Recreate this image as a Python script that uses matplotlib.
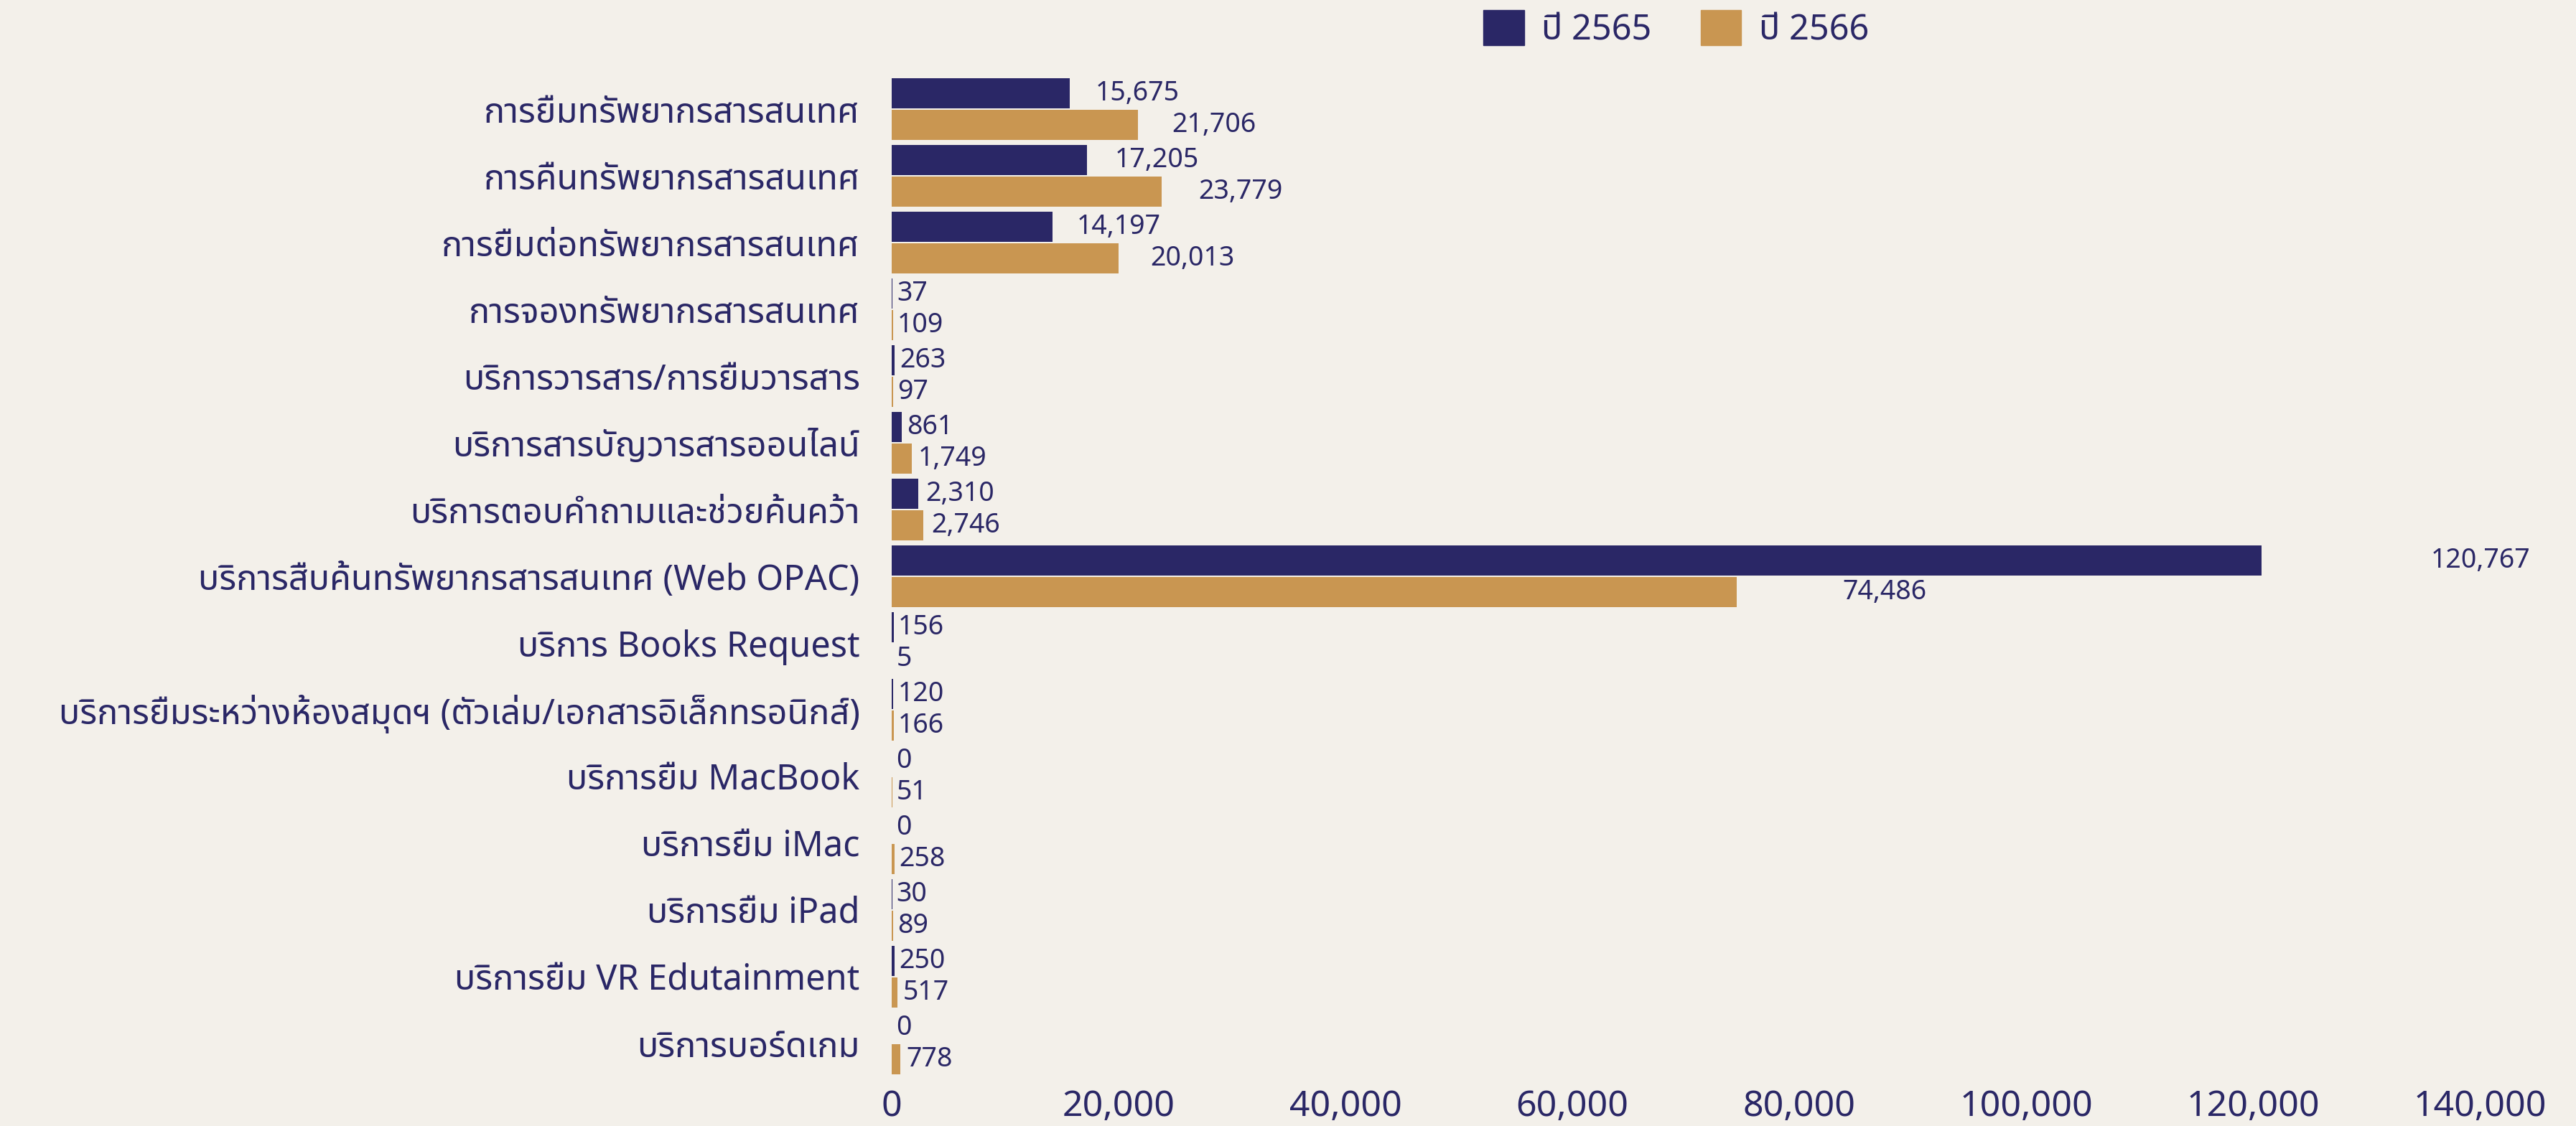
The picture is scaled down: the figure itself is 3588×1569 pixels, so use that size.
import matplotlib
matplotlib.use("Agg")
import matplotlib.pyplot as plt
from matplotlib import font_manager
from matplotlib.ft2font import FT2Font
from matplotlib.patches import Patch
import numpy as np

# data
categories = [
    "การยืมทรัพยากรสารสนเทศ",
    "การคืนทรัพยากรสารสนเทศ",
    "การยืมต่อทรัพยากรสารสนเทศ",
    "การจองทรัพยากรสารสนเทศ",
    "บริการวารสาร/การยืมวารสาร",
    "บริการสารบัญวารสารออนไลน์",
    "บริการตอบคำถามและช่วยค้นคว้า",
    "บริการสืบค้นทรัพยากรสารสนเทศ (Web OPAC)",
    "บริการ Books Request",
    "บริการยืมระหว่างห้องสมุดฯ (ตัวเล่ม/เอกสารอิเล็กทรอนิกส์)",
    "บริการยืม MacBook",
    "บริการยืม iMac",
    "บริการยืม iPad",
    "บริการยืม VR Edutainment",
    "บริการบอร์ดเกม",
]
y2565 = [15675, 17205, 14197, 37, 263, 861, 2310, 120767, 156, 120, 0, 0, 30, 250, 0]
y2566 = [21706, 23779, 20013, 109, 97, 1749, 2746, 74486, 5, 166, 51, 258, 89, 517, 778]
series_names = ["ปี 2565", "ปี 2566"]
xticks = [0, 20000, 40000, 60000, 80000, 100000, 120000, 140000]

navy = "#2a2766"
gold = "#c99651"
bg = "#f3f0ea"


# look for a font that has Thai glyphs
def thai_fonts():
    found = []
    for f in font_manager.fontManager.ttflist:
        try:
            if 0x0E01 in FT2Font(f.fname).get_charmap():
                found.append(f.name)
        except Exception:
            pass
    return found


tf = thai_fonts()
fams = []
for pref in ["Noto Sans Thai", "Noto Sans Thai UI", "Noto Sans Thai Looped", "Loma", "Garuda", "Tlwg Typo", "Sarabun", "Kanit", "Prompt"]:
    if pref in tf:
        fams.append(pref)
        break
if not fams and tf:
    fams.append(tf[0])
plt.rcParams["font.family"] = fams + ["Noto Sans", "DejaVu Sans"]

fig = plt.figure(figsize=(35.88, 15.69), dpi=100, facecolor=bg)
ax = fig.add_axes([0.3462, 0.0437, 0.6165, 0.8891])
ax.set_facecolor(bg)

y = np.arange(len(categories))
h = 0.45
off = 0.235
ax.barh(y - off, y2565, height=h, color=navy)
ax.barh(y + off, y2566, height=h, color=gold)

for i in range(len(categories)):
    for val, dy in ((y2565[i], -off), (y2566[i], off)):
        ax.text(val * 1.12 + 380, y[i] + dy, f"{val:,}", va="center", ha="left",
                fontsize=27, color=navy)

ax.set_ylim(len(categories) - 0.5, -0.5)
ax.set_xlim(0, 140000)
ax.set_yticks(y)
ax.set_yticklabels(categories, fontsize=35, color=navy)
ax.set_xticks(xticks)
ax.set_xticklabels([f"{t:,}" for t in xticks], fontsize=36, color=navy)
ax.tick_params(axis="both", length=0)
ax.tick_params(axis="y", pad=32)
ax.tick_params(axis="x", pad=12)
for s in ax.spines.values():
    s.set_visible(False)

handles = [Patch(color=navy, label=series_names[0]), Patch(color=gold, label=series_names[1])]
fig.legend(handles=handles, loc="center left", bbox_to_anchor=(0.5758, 0.974), ncol=2,
           frameon=False, fontsize=35, labelcolor=navy, handlelength=1.17, handleheight=1.17,
           handletextpad=0.5, columnspacing=1.4, borderpad=0, borderaxespad=0)

fig.savefig("out.png", dpi=100, facecolor=bg)
